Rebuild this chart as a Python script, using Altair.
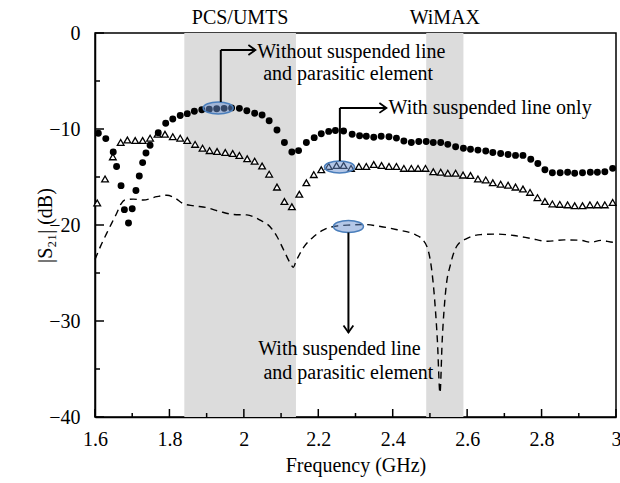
import altair as alt
import pandas as pd

# ---------------- data ----------------
# Without suspended line and parasitic element (filled circles)
c_f = [1.609, 1.629, 1.649, 1.658, 1.670, 1.679, 1.690, 1.700, 1.710, 1.719,
       1.728, 1.737, 1.748, 1.770, 1.790, 1.809, 1.829, 1.848, 1.867, 1.887,
       1.907, 1.927, 1.947, 1.967, 1.988, 2.008, 2.029, 2.049, 2.068, 2.089,
       2.109, 2.129, 2.147, 2.168, 2.189, 2.208, 2.228, 2.246, 2.268, 2.291,
       2.311, 2.329, 2.349, 2.369, 2.390, 2.410, 2.430, 2.450, 2.470, 2.490,
       2.509, 2.529, 2.548, 2.569, 2.590, 2.609, 2.629, 2.650, 2.669, 2.690,
       2.710, 2.730, 2.750, 2.771, 2.790, 2.809, 2.829, 2.850, 2.870, 2.889,
       2.910, 2.931, 2.950, 2.970, 2.991]
c_db = [-10.45, -11.0, -12.4, -13.9, -15.9, -18.4, -19.8, -18.3, -16.4, -14.9,
        -13.5, -12.5, -11.7, -10.4, -9.4, -8.95, -8.6, -8.4, -8.15, -8.0,
        -7.95, -7.9, -7.85, -7.8, -7.85, -8.1, -8.35, -8.55, -9.15, -10.1,
        -11.4, -12.4, -12.25, -11.4, -10.9, -10.5, -10.25, -10.15, -10.2, -10.55,
        -10.7, -10.75, -10.85, -10.75, -10.8, -10.95, -11.25, -11.4, -11.3, -11.3,
        -11.4, -11.4, -11.6, -11.85, -12.0, -12.1, -12.2, -12.3, -12.45, -12.55,
        -12.65, -12.75, -12.75, -13.15, -13.6, -14.25, -14.55, -14.55, -14.5, -14.6,
        -14.55, -14.5, -14.5, -14.45, -14.1]

# With suspended line only (open triangles)
t_f = [1.606, 1.627, 1.648, 1.669, 1.687, 1.708, 1.728, 1.748, 1.768, 1.788,
       1.809, 1.829, 1.848, 1.869, 1.889, 1.908, 1.928, 1.950, 1.970, 1.988,
       2.009, 2.029, 2.049, 2.068, 2.089, 2.109, 2.129, 2.149, 2.168, 2.188,
       2.208, 2.228, 2.249, 2.268, 2.288, 2.309, 2.329, 2.349, 2.370, 2.390,
       2.410, 2.430, 2.450, 2.468, 2.488, 2.509, 2.529, 2.548, 2.569, 2.589,
       2.609, 2.629, 2.650, 2.669, 2.690, 2.710, 2.730, 2.750, 2.769, 2.789,
       2.809, 2.829, 2.849, 2.870, 2.889, 2.910, 2.930, 2.950, 2.970, 2.991]
t_db = [-17.7, -15.2, -12.9, -11.4, -11.15, -11.2, -11.2, -10.95, -10.55, -10.55,
        -10.8, -10.95, -11.2, -11.6, -12.0, -12.25, -12.35, -12.45, -12.55, -12.75,
        -13.1, -13.35, -13.85, -14.7, -16.05, -17.55, -18.1, -16.8, -15.6, -14.75,
        -14.25, -13.9, -13.8, -13.8, -14.1, -13.9, -13.9, -13.7, -13.8, -13.9,
        -13.9, -14.1, -14.1, -14.1, -14.1, -14.45, -14.5, -14.6, -14.6, -14.8,
        -14.85, -15.2, -15.3, -15.6, -15.75, -15.85, -16.05, -16.25, -16.6, -17.15,
        -17.55, -17.8, -17.85, -17.9, -18.0, -18.0, -17.9, -17.9, -17.9, -17.65]

# With suspended line and parasitic element (dashed line)
d_f = [1.600, 1.615, 1.631, 1.645, 1.658, 1.670, 1.680, 1.703, 1.730, 1.766,
       1.793, 1.815, 1.838, 1.865, 1.901, 1.936, 1.972, 2.008, 2.044, 2.071,
       2.089, 2.107, 2.125, 2.133, 2.140, 2.161, 2.188, 2.214, 2.250, 2.286,
       2.322, 2.367, 2.412, 2.457, 2.480, 2.497, 2.511, 2.520, 2.527, 2.533,
       2.542, 2.556, 2.574, 2.600, 2.636, 2.681, 2.726, 2.771, 2.816, 2.861,
       2.906, 2.932, 2.959, 2.995, 3.000]
d_db = [-23.6, -22.2, -20.9, -19.8, -18.8, -17.8, -17.4, -17.3, -17.4, -17.05,
        -16.9, -17.2, -17.8, -18.0, -18.2, -18.6, -18.9, -18.95, -19.5, -20.2,
        -21.2, -22.6, -24.0, -24.4, -23.8, -22.3, -21.2, -20.5, -20.1, -20.0,
        -19.95, -20.15, -20.5, -20.95, -21.5, -22.9, -27.0, -32.0, -37.5, -32.0,
        -27.0, -24.0, -22.1, -21.4, -21.0, -20.95, -21.1, -21.4, -21.7, -21.55,
        -21.6, -21.8, -21.6, -21.8, -21.8]

# shaded bands
band_names = ["PCS/UMTS", "WiMAX"]
band_start = [1.84, 2.49]
band_end = [2.14, 2.59]

# highlight ellipses (data coords)
ell_f = [1.931, 2.257, 2.281]
ell_db = [-7.81, -13.96, -20.16]

# annotation leader segments
seg_x1 = [1.938, 1.938, 2.258, 2.258, 2.281]
seg_y1 = [-7.19, -1.77, -13.33, -7.81, -20.78]
seg_x2 = [1.938, 2.031, 2.258, 2.383, 2.281]
seg_y2 = [-1.77, -1.77, -7.81, -7.81, -31.2]

head_f = [2.031, 2.383, 2.281]
head_db = [-1.77, -7.81, -31.2]
head_dir = ["right", "right", "down"]

txtL = ["Without suspended line", "and parasitic element", "With suspended line only"]
txtL_f = [2.036, 2.052, 2.389]
txtL_db = [-1.98, -4.27, -7.81]

txtC = ["With suspended line", "and parasitic element"]
txtC_f = [2.257, 2.281]
txtC_db = [-32.9, -35.4]

x_label_vals = [1.6, 1.8, 2.0, 2.2, 2.4, 2.6, 2.8, 3.0]
x_minor = [1.7, 1.9, 2.1, 2.3, 2.5, 2.7, 2.9]
y_label_vals = [-40, -30, -20, -10, 0]
y_minor = [-35, -25, -15, -5]

# ---------------- chart ----------------
W, H = 521, 384
FONT = "Liberation Serif"
FS = 20

xscale = alt.Scale(domain=[1.6, 3.0], nice=False, zero=False)
yscale = alt.Scale(domain=[-40, 0], nice=False, zero=False)
common_axis = dict(ticks=False, grid=False, domainColor="black", domainWidth=1.5,
                   labelFont=FONT, labelFontSize=FS, labelColor="black",
                   labelFlush=False, labelOverlap=False,
                   titleFont=FONT, titleFontSize=FS, titleColor="black",
                   titleFontWeight="normal", titleBaseline="middle", titleAlign="center")
xaxis = alt.Axis(values=x_label_vals, format="~g", title="Frequency (GHz)",
                 labelPadding=12, titleX=W / 2, titleY=48, **common_axis)
yaxis = alt.Axis(values=y_label_vals, format="d", title="|S₂₁| (dB)",
                 labelExpr="replace(datum.label, '-', '−')",
                 labelPadding=15, titleX=-50, titleY=H / 2, titleAngle=-90, **common_axis)


def X(f):
    return alt.X(f, type="quantitative", scale=xscale, axis=xaxis)


def Y(f):
    return alt.Y(f, type="quantitative", scale=yscale, axis=yaxis)


bands_df = pd.DataFrame({"name": band_names, "start": band_start, "end": band_end})
bands_df["mid"] = (bands_df["start"] + bands_df["end"]) / 2

bands = alt.Chart(bands_df).mark_rect(color="#dcdcdc").encode(
    x=X("start"), x2=alt.X2("end"))
band_labels = alt.Chart(bands_df).mark_text(font=FONT, fontSize=FS, color="black",
                                            baseline="middle").encode(
    x=X("mid"), y=alt.value(-15), text="name:N")

dashed = alt.Chart(pd.DataFrame({"f": d_f, "db": d_db})).mark_line(
    color="black", strokeDash=[7, 5], strokeWidth=1.4, interpolate="monotone").encode(
    x=X("f"), y=Y("db"))

tri = alt.Chart(pd.DataFrame({"f": t_f, "db": t_db})).mark_point(
    shape="triangle-up", filled=True, fill="white", stroke="black", strokeWidth=1.3,
    size=45, opacity=1).encode(x=X("f"), y=Y("db"))

circ = alt.Chart(pd.DataFrame({"f": c_f, "db": c_db})).mark_point(
    shape="circle", filled=True, color="black", size=48, opacity=1).encode(
    x=X("f"), y=Y("db"))

ELL = "M -1 0 A 1 0.4 0 1 1 1 0 A 1 0.4 0 1 1 -1 0 Z"
ells = alt.Chart(pd.DataFrame({"f": ell_f, "db": ell_db})).mark_point(
    shape=ELL, filled=True, fill="#698fcf", fillOpacity=0.5, stroke="#4a7ebb",
    strokeWidth=1.5, size=900, opacity=1).encode(x=X("f"), y=Y("db"))

segs = alt.Chart(pd.DataFrame({"x1": seg_x1, "y1": seg_y1, "x2": seg_x2, "y2": seg_y2})).mark_rule(
    color="black", strokeWidth=2).encode(x=X("x1"), y=Y("y1"), x2=alt.X2("x2"), y2=alt.Y2("y2"))

R_PATH = "M -1 -0.7 L 0 0 L -1 0.7"
D_PATH = "M -0.7 -1 L 0 0 L 0.7 -1"
heads = alt.Chart(pd.DataFrame({"f": head_f, "db": head_db, "dir": head_dir})).mark_point(
    filled=False, stroke="black", strokeWidth=1.8, size=196, opacity=1).encode(
    x=X("f"), y=Y("db"),
    shape=alt.Shape("dir:N", scale=alt.Scale(domain=["right", "down"], range=[R_PATH, D_PATH]),
                    legend=None))

textL = alt.Chart(pd.DataFrame({"t": txtL, "f": txtL_f, "db": txtL_db})).mark_text(
    font=FONT, fontSize=FS, color="black", align="left", baseline="middle").encode(
    x=X("f"), y=Y("db"), text="t:N")
textC = alt.Chart(pd.DataFrame({"t": txtC, "f": txtC_f, "db": txtC_db})).mark_text(
    font=FONT, fontSize=FS, color="black", align="center", baseline="middle").encode(
    x=X("f"), y=Y("db"), text="t:N")

xt_major = alt.Chart(pd.DataFrame({"t": x_label_vals})).mark_rule(color="black", strokeWidth=1.5).encode(
    x=X("t"), y=alt.value(H), y2=alt.value(H - 8))
xt_minor = alt.Chart(pd.DataFrame({"t": x_minor})).mark_rule(color="black", strokeWidth=1.5).encode(
    x=X("t"), y=alt.value(H), y2=alt.value(H - 4))
yt_major = alt.Chart(pd.DataFrame({"t": y_label_vals})).mark_rule(color="black", strokeWidth=1.5).encode(
    y=Y("t"), x=alt.value(0), x2=alt.value(9))
yt_minor = alt.Chart(pd.DataFrame({"t": y_minor})).mark_rule(color="black", strokeWidth=1.5).encode(
    y=Y("t"), x=alt.value(0), x2=alt.value(5))

chart = alt.layer(
    bands, dashed, tri, circ, ells, segs, heads, textL, textC, band_labels,
    xt_major, xt_minor, yt_major, yt_minor
).properties(
    width=W, height=H,
    background="white",
    autosize=alt.AutoSizeParams(type="none"),
    padding={"left": 95, "top": 33, "right": 4, "bottom": 66},
).configure_view(
    stroke="black", strokeWidth=1.5
)

chart.save("out.html", embed_options={"renderer": "svg", "actions": False})
